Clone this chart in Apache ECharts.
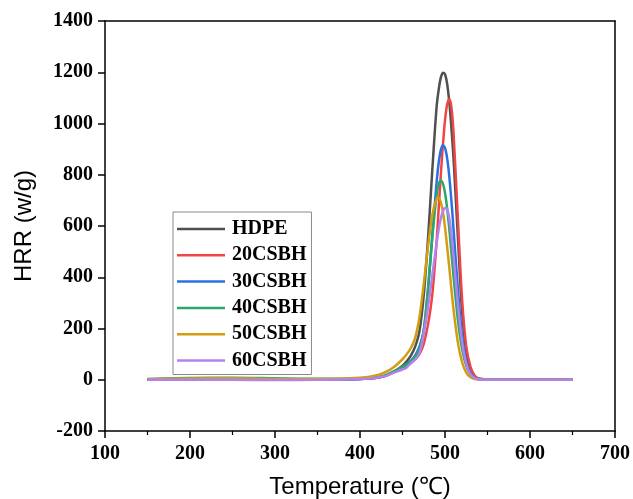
<!DOCTYPE html>
<html>
<head>
<meta charset="utf-8">
<script src="https://cdn.jsdelivr.net/npm/echarts@6/dist/echarts.min.js"></script>
<style>
html,body{margin:0;padding:0;background:#fff;}
#chart{width:633px;height:499px;}
</style>
</head>
<body>
<div id="chart"></div>
<script>
var temperatures = [150,200,250,300,350,400,420,430,440,450,455,460,465,470,475,480,485,490,492.5,495,497.5,500,502.5,505,507.5,510,515,520,525,530,535,540,550,575,600,650];
var seriesNames = ['HDPE','20CSBH','30CSBH','40CSBH','50CSBH','60CSBH'];
var hdpe   = [0,2,2,0,1,3,8,15,32,55,72,95,130,190,330,550,815,1060,1130,1178,1198,1192,1155,1085,985,865,565,270,110,40,12,4,1,0,0,0];
var csbh20 = [0,1,1,0,0,3,8,15,30,45,55,65,80,100,140,215,330,533,665,796,915,1012,1074,1096,1065,965,640,320,130,50,16,5,1,0,0,0];
var csbh30 = [0,1,1,0,0,3,8,16,32,50,62,75,95,130,191,351,560,765,845,895,915,905,865,795,700,590,360,175,73,25,8,2,0,0,0,0];
var csbh40 = [3,7,8,6,4,5,10,18,33,50,60,72,90,120,194,356,555,718,763,778,766,730,670,590,500,405,238,122,54,21,7,2,1,0,0,0];
var csbh50 = [2,5,6,3,3,8,18,30,50,80,100,125,165,245,374,520,642,705,710,693,655,595,520,440,355,275,148,70,28,10,3,1,0,0,0,0];
var csbh60 = [0,0,0,-1,0,3,8,15,28,40,48,65,80,103,179,283,406,529,585,628,656,670,665,630,568,485,300,151,62,21,6,2,0,0,0,0];
var seriesValues = [hdpe, csbh20, csbh30, csbh40, csbh50, csbh60];
var colors = ['#505050','#f04545','#2a72e0','#2aa86c','#d49c10','#b482ee'];
var xTicks = {min:100, max:700, interval:100};
var yTicks = {min:-200, max:1400, interval:200};

var chart = echarts.init(document.getElementById('chart'), null, {renderer:'canvas'});
var serifBold = {fontFamily:'Liberation Serif', fontWeight:'bold', fontSize:20, color:'#000'};

var series = seriesValues.map(function(vals, i){
  return {
    name: seriesNames[i],
    type: 'line',
    data: temperatures.map(function(t, j){ return [t, vals[j]]; }),
    symbol: 'none',
    showSymbol: false,
    smooth: 0.3,
    lineStyle: {color: colors[i], width: 2.5},
    itemStyle: {color: colors[i]},
    xAxisIndex: 0, yAxisIndex: 0
  };
});

function plain(v){ return String(v); }

chart.setOption({
  animation: false,
  backgroundColor: '#fff',
  color: colors,
  grid: {left:105, right:18, top:21, bottom:68, containLabel:false, outerBoundsMode:'none'},
  legend: {
    data: seriesNames,
    orient: 'vertical',
    left: 173, top: 212,
    padding: [6, 5, 3, 4],
    icon: 'rect',
    itemWidth: 48, itemHeight: 2.5, itemGap: 4.3,
    borderColor: '#8a8a8a', borderWidth: 1,
    textStyle: Object.assign({lineHeight: 22, padding:[0,0,0,2]}, serifBold)
  },
  xAxis: [{
    type: 'value', min: xTicks.min, max: xTicks.max, interval: xTicks.interval,
    position: 'bottom',
    name: 'Temperature (\u2103)', nameLocation: 'middle', nameGap: 44,
    nameTextStyle: {fontFamily:'Liberation Sans', fontSize:24, color:'#000'},
    axisLine: {show:true, onZero:false, lineStyle:{color:'#000', width:1.5}},
    axisTick: {show:true, inside:false, length:7, lineStyle:{color:'#000', width:1.5}},
    minorTick: {show:true, splitNumber:2, length:4, lineStyle:{color:'#000', width:1.2}},
    axisLabel: Object.assign({margin:13, formatter: plain}, serifBold),
    splitLine: {show:false}
  },{
    type: 'value', min: xTicks.min, max: xTicks.max, interval: xTicks.interval,
    position: 'top',
    axisLine: {show:true, onZero:false, lineStyle:{color:'#000', width:1.5}},
    axisTick: {show:false}, axisLabel: {show:false}, splitLine: {show:false}
  }],
  yAxis: [{
    type: 'value', min: yTicks.min, max: yTicks.max, interval: yTicks.interval,
    position: 'left',
    name: 'HRR (w/g)', nameLocation: 'middle', nameGap: 69, nameRotate: 90,
    nameTextStyle: {fontFamily:'Liberation Sans', fontSize:24, color:'#000'},
    axisLine: {show:true, onZero:false, lineStyle:{color:'#000', width:1.5}},
    axisTick: {show:true, inside:false, length:7, lineStyle:{color:'#000', width:1.5}},
    axisLabel: Object.assign({margin:12, formatter: plain}, serifBold),
    splitLine: {show:false}
  },{
    type: 'value', min: yTicks.min, max: yTicks.max, interval: yTicks.interval,
    position: 'right',
    axisLine: {show:true, onZero:false, lineStyle:{color:'#000', width:1.5}},
    axisTick: {show:false}, axisLabel: {show:false}, splitLine: {show:false}
  }],
  series: series
});
</script>
</body>
</html>
